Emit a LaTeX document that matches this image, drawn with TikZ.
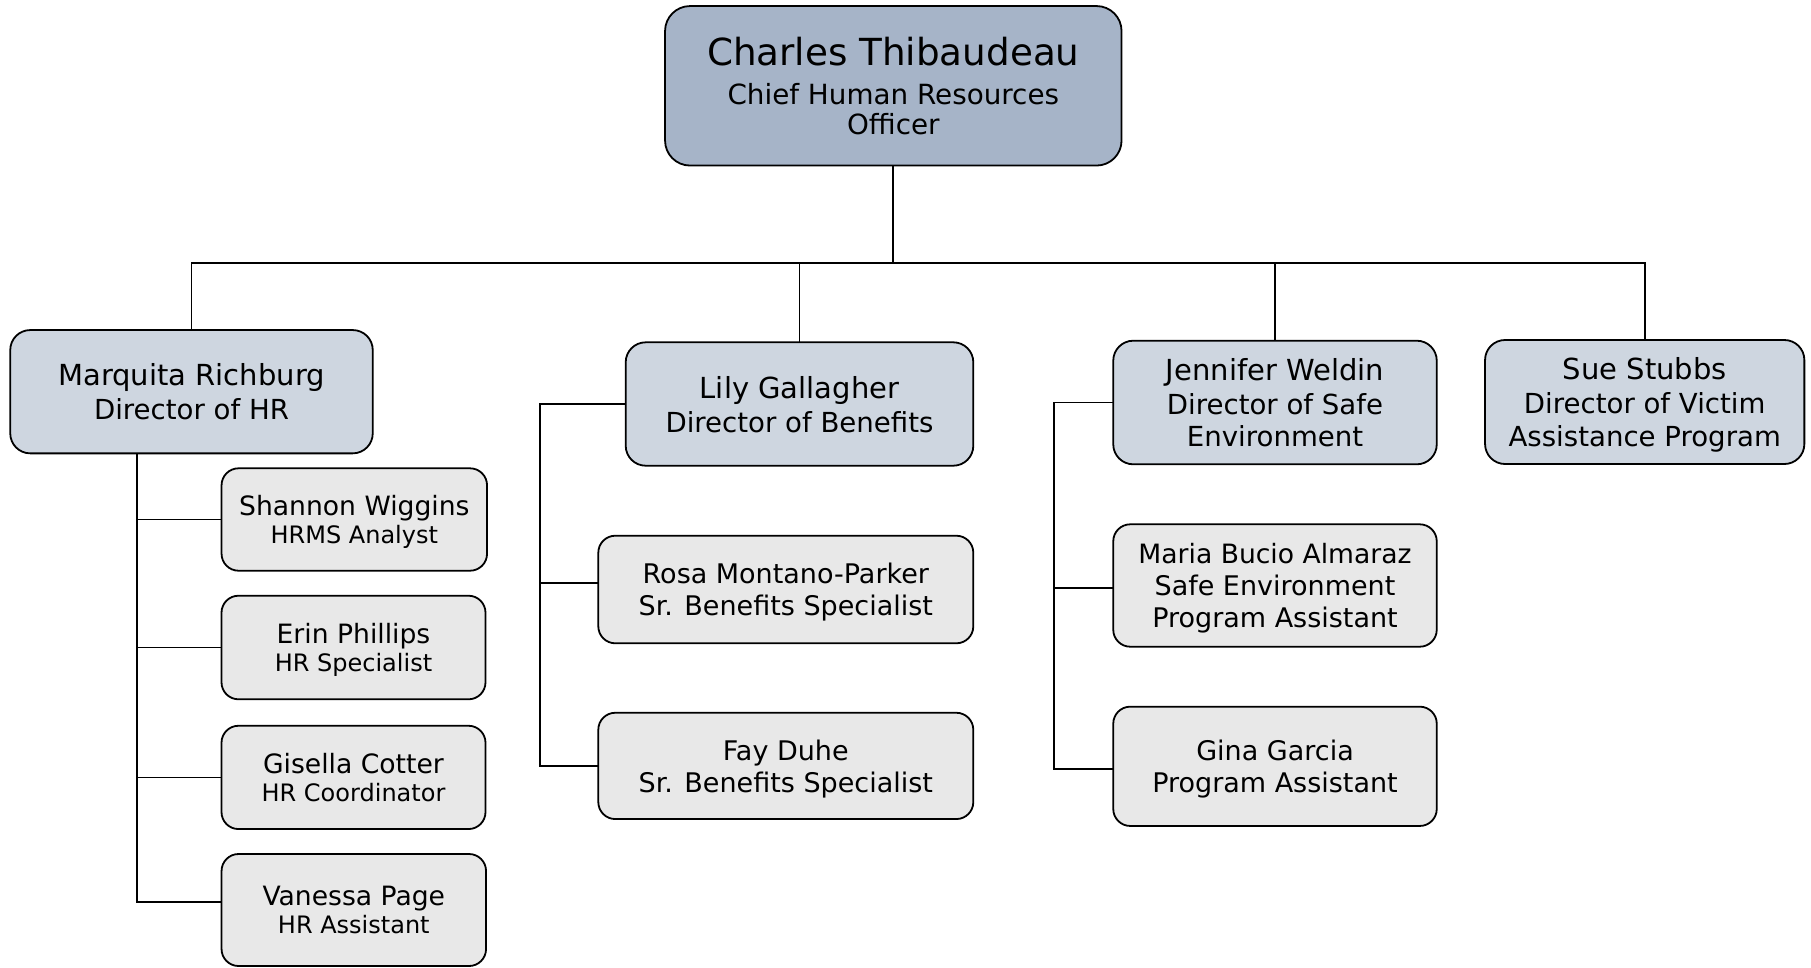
\documentclass[tikz,border=0pt]{standalone}
\usepackage{fontspec}
\setmainfont{DejaVu Sans}
\definecolor{ceofill}{RGB}{166,180,200}
\definecolor{dirfill}{RGB}{206,214,224}
\definecolor{stafffill}{RGB}{232,232,232}
\begin{document}
\begin{tikzpicture}[x=1pt,y=-1pt,
  box/.style={draw=black,line width=1.8pt,align=center,inner sep=0pt,outer sep=0pt,text depth=0pt},
  ceobox/.style={box,fill=ceofill,rounded corners=25pt,font=\fontsize{27.8}{30}\selectfont},
  dirbox/.style={box,fill=dirfill,rounded corners=20pt,font=\fontsize{27.6}{32.5}\selectfont},
  staffbox/.style={box,fill=stafffill,rounded corners=17pt,font=\fontsize{27}{32}\selectfont},
  hrbox/.style={staffbox,font=\fontsize{24}{28.4}\selectfont},
  conn/.style={line width=1.8pt}]
\useasboundingbox (0,0) rectangle (1811,967);
% top
\node[ceobox,minimum width=456.5pt,minimum height=159.5pt] (ceo) at (893.3,85.8)
  {{\fontsize{37.3}{40}\selectfont Charles Thibaudeau}\\[9.5pt]Chief Human Resources\\Officer};
% directors
\node[dirbox,minimum width=362.5pt,minimum height=123.3pt] (marquita) at (191.5,391.7)
  {{\fontsize{29}{34}\selectfont Marquita Richburg}\\[1.5pt]Director of HR};
\node[dirbox,minimum width=347.6pt,minimum height=123.4pt] (lily) at (799.5,404)
  {{\fontsize{29}{34}\selectfont Lily Gallagher}\\[1.5pt]Director of Benefits};
\node[dirbox,minimum width=323.5pt,minimum height=123.6pt] (jen) at (1275,402.5)
  {{\fontsize{29}{34}\selectfont Jennifer Weldin}\\[1.5pt]Director of Safe\\Environment};
\node[dirbox,minimum width=319.3pt,minimum height=124pt] (sue) at (1644.7,402)
  {{\fontsize{29}{34}\selectfont Sue Stubbs}\\[1.5pt]Director of Victim\\Assistance Program};
% HR staff
\node[hrbox,minimum width=265.5pt,minimum height=102.4pt] (shannon) at (354.3,519.5)
  {{\fontsize{26.6}{30}\selectfont Shannon Wiggins}\\HRMS Analyst};
\node[hrbox,minimum width=264pt,minimum height=103.6pt] (erin) at (353.5,647.5)
  {{\fontsize{26.6}{30}\selectfont Erin Phillips}\\HR Specialist};
\node[hrbox,minimum width=264pt,minimum height=103.3pt] (gisella) at (353.5,777.4)
  {{\fontsize{26.6}{30}\selectfont Gisella Cotter}\\HR Coordinator};
\node[hrbox,minimum width=264.5pt,minimum height=112pt] (vanessa) at (353.8,910)
  {{\fontsize{26.6}{30}\selectfont Vanessa Page}\\HR Assistant};
% Benefits staff
\node[staffbox,minimum width=375pt,minimum height=107.6pt] (rosa) at (785.8,589.5)
  {Rosa Montano-Parker\\Sr. Benefits Specialist};
\node[staffbox,minimum width=375pt,minimum height=106.3pt] (fay) at (785.8,765.9)
  {Fay Duhe\\Sr. Benefits Specialist};
% Safe environment staff
\node[staffbox,minimum width=323.5pt,minimum height=122.4pt] (maria) at (1275,585.5)
  {{\fontsize{26.6}{32}\selectfont Maria Bucio Almaraz}\\Safe Environment\\Program Assistant};
\node[staffbox,minimum width=323.5pt,minimum height=119.3pt] (gina) at (1275,766.3)
  {Gina Garcia\\Program Assistant};
% connectors
\coordinate (bar) at (0,263.3);
\coordinate (hrx) at (136.7,0);
\coordinate (lbx) at (540,0);
\coordinate (jbx) at (1054.3,0);
\coordinate (vanessaC) at ([yshift=8.3pt]vanessa.west);
\coordinate (rosaC) at ([yshift=6.2pt]rosa.west);
\coordinate (mariaC) at ([yshift=-2.5pt]maria.west);
\coordinate (ginaC) at ([yshift=-2.7pt]gina.west);
\draw[conn] (ceo.south) -- (ceo.south |- bar);
\draw[conn] (marquita.north) -- (marquita.north |- bar) -- (sue.north |- bar) -- (sue.north);
\draw[conn] (lily.north) -- (lily.north |- bar);
\draw[conn] (jen.north) -- (jen.north |- bar);
% HR bus
\draw[conn] (marquita.south -| hrx) -- (hrx |- vanessaC) -- (vanessaC);
\draw[conn] (hrx |- shannon.west) -- (shannon.west);
\draw[conn] (hrx |- erin.west) -- (erin.west);
\draw[conn] (hrx |- gisella.west) -- (gisella.west);
% Benefits bus
\draw[conn] (lily.west) -- (lily.west -| lbx) -- (lbx |- fay.west) -- (fay.west);
\draw[conn] (lbx |- rosaC) -- (rosaC);
% Safe environment bus
\draw[conn] (jen.west) -- (jen.west -| jbx) -- (jbx |- ginaC) -- (ginaC);
\draw[conn] (jbx |- mariaC) -- (mariaC);
\end{tikzpicture}
\end{document}
